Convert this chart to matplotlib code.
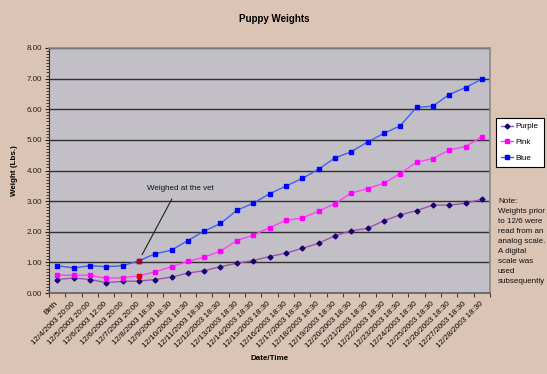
import matplotlib
matplotlib.use("Agg")
import matplotlib.pyplot as plt
from matplotlib.ticker import MultipleLocator, FixedLocator
import numpy as np

plt.rcParams['font.family'] = ['Liberation Sans', 'DejaVu Sans']

categories = ["Birth", "12/4/2003 20:00", "12/5/2003 20:00", "12/6/2003 12:00",
              "12/6/2003 20:00", "12/7/2003 20:00"] + \
             [f"12/{d}/2003 18:30" for d in range(8, 29)]

purple = [0.44, 0.49, 0.44, 0.34, 0.38, 0.39, 0.44, 0.52, 0.65, 0.73, 0.86, 0.97,
          1.06, 1.19, 1.30, 1.46, 1.62, 1.87, 2.03, 2.11, 2.36, 2.55, 2.69, 2.87,
          2.87, 2.93, 3.06]
pink = [0.58, 0.58, 0.58, 0.48, 0.50, 0.56, 0.69, 0.86, 1.03, 1.17, 1.37, 1.71,
        1.89, 2.13, 2.37, 2.45, 2.67, 2.92, 3.26, 3.41, 3.58, 3.90, 4.27, 4.39,
        4.67, 4.78, 5.10]
blue = [0.89, 0.82, 0.89, 0.86, 0.89, 1.05, 1.28, 1.40, 1.71, 2.02, 2.27, 2.70,
        2.93, 3.24, 3.49, 3.74, 4.04, 4.41, 4.61, 4.93, 5.21, 5.46, 6.06, 6.10,
        6.48, 6.71, 6.98]
vet_index = 5
yticks = [0, 1, 2, 3, 4, 5, 6, 7, 8]

W, H = 547, 374
fig = plt.figure(figsize=(W / 100, H / 100), dpi=100)
fig.patch.set_facecolor('#DCC4B4')
ax = fig.add_axes([49 / W, 1 - 293 / H, (490 - 49) / W, (293 - 48) / H])
ax.set_facecolor('#C2C0C6')

x = np.arange(len(categories))
ax.plot(x, purple, color='#A050B8', lw=1, marker='D', ms=2.5,
        mfc='#1A0070', mec='#1A0070', label='Purple', zorder=3)
ax.plot(x, pink, color='#FF40FF', lw=1, marker='s', ms=3.2,
        mfc='#FF00FF', mec='#FF00FF', label='Pink', zorder=3)
ax.plot(x, blue, color='#4060F0', lw=1, marker='s', ms=3.2,
        mfc='#0000FF', mec='#0000FF', label='Blue', zorder=3)
ax.plot([x[vet_index]], [pink[vet_index]], ls='none', marker='s', ms=3.2,
        mfc='#E00000', mec='#E00000', zorder=4)
ax.plot([x[vet_index]], [blue[vet_index]], ls='none', marker='s', ms=3.2,
        mfc='#C00000', mec='#C00000', zorder=4)

ax.set_xlim(-0.5, len(categories) - 0.5)
ax.set_ylim(0, 8)
ax.set_yticks(yticks)
ax.set_yticklabels([f"{v:.2f}" for v in yticks])
ax.yaxis.set_minor_locator(MultipleLocator(0.1))
ax.tick_params(axis='y', which='major', direction='out', length=3, width=0.8,
               labelsize=5.8, pad=2, colors='#202020')
ax.tick_params(axis='y', which='minor', direction='out', length=2, width=0.6,
               colors='#202020')

ax.set_xticks(x)
ax.set_xticklabels(categories, rotation=45, ha='right', va='center',
                   rotation_mode='anchor', fontsize=5.8)
ax.xaxis.set_minor_locator(FixedLocator(np.arange(-0.5, len(categories), 1)))
ax.tick_params(axis='x', which='major', length=0, pad=7)
ax.tick_params(axis='x', which='minor', direction='out', length=3, width=0.8,
               colors='#404040')

ax.yaxis.grid(True, which='major', color='#303030', lw=1.0)
ax.set_axisbelow(True)
for s in ['top', 'right']:
    ax.spines[s].set_color('#8A8A8A')
    ax.spines[s].set_linewidth(1.2)
ax.spines['left'].set_color('#303030')
ax.spines['bottom'].set_color('#606060')
ax.spines['bottom'].set_linewidth(1.2)

ax.annotate('Weighed at the vet', xy=(x[vet_index], blue[vet_index]),
            xytext=(180 / W, 1 - 189 / H), textcoords='figure fraction',
            ha='center', va='center', fontsize=5.8, color='#101010',
            arrowprops=dict(arrowstyle='-', color='#202020', lw=0.8,
                            relpos=(0.43, 0), shrinkA=3, shrinkB=5))

fig.text(274 / W, 1 - 19 / H, 'Puppy Weights', ha='center', va='center',
         fontsize=7, fontweight='bold')
fig.text(269.5 / W, 1 - 358 / H, 'Date/Time', ha='center', va='center',
         fontsize=5.8, fontweight='bold')
fig.text(15 / W, 1 - 171 / H, 'Weight (Lbs.)', ha='center', va='center',
         rotation=90, fontsize=5.8, fontweight='bold')

fig.text(498 / W, 1 - 198 / H,
         "Note:\nWeights prior\nto 12/6 were\nread from an\nanalog scale.\n"
         "A digital\nscale was\nused\nsubsequently",
         ha='left', va='top', fontsize=5.8, linespacing=1.6, color='#101010')

leg = fig.legend(loc='upper left', bbox_to_anchor=(495.7 / W, 1 - 118 / H),
                 fontsize=5.8, frameon=True, fancybox=False, framealpha=1,
                 edgecolor='black', facecolor='white', handlelength=1.6,
                 borderpad=0.6, labelspacing=1.0, handletextpad=0.3,
                 borderaxespad=0)
leg.get_frame().set_linewidth(0.8)

fig.savefig('out.png', dpi=100, facecolor=fig.get_facecolor())
